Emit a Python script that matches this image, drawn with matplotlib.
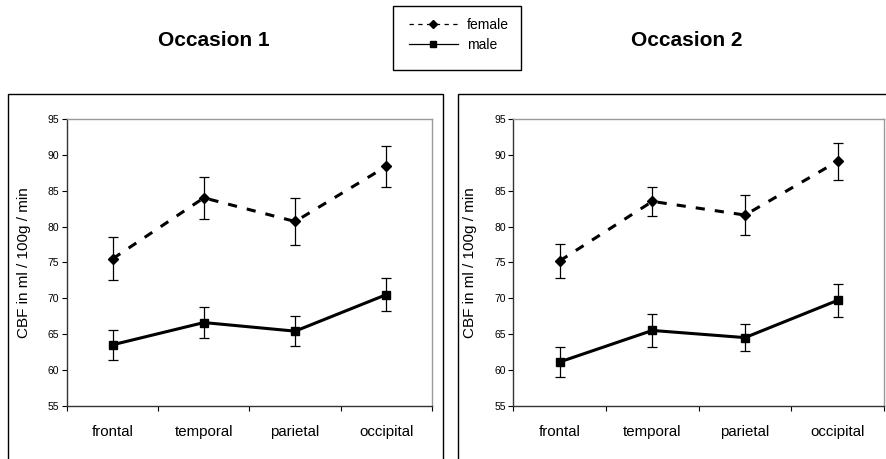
import matplotlib
matplotlib.use("Agg")
import matplotlib.pyplot as plt
from matplotlib.lines import Line2D
from matplotlib.patches import Rectangle

plt.rcParams['font.family'] = ['Liberation Sans', 'DejaVu Sans']

# CBF values (ml / 100g / min) per region
regions = ['frontal', 'temporal', 'parietal', 'occipital']

occ1_female = [75.5, 84.0, 80.7, 88.4]
occ1_female_err = [3.0, 2.9, 3.3, 2.9]
occ1_male = [63.5, 66.6, 65.4, 70.5]
occ1_male_err = [2.1, 2.2, 2.1, 2.35]

occ2_female = [75.2, 83.5, 81.6, 89.1]
occ2_female_err = [2.4, 2.05, 2.8, 2.55]
occ2_male = [61.1, 65.5, 64.5, 69.7]
occ2_male_err = [2.1, 2.3, 1.85, 2.3]

titles = ['Occasion 1', 'Occasion 2']
ylabel = 'CBF in ml / 100g / min'

W, H = 886, 459
fig = plt.figure(figsize=(W / 100, H / 100), dpi=100)


def px_axes(x0, x1, ytop, ybot):
    return fig.add_axes([x0 / W, 1 - ybot / H, (x1 - x0) / W, (ybot - ytop) / H])


def draw_panel(ax, female, female_err, male, male_err):
    x = list(range(1, len(regions) + 1))
    ax.errorbar(x, female, yerr=female_err, color='black', lw=2.2,
                linestyle=(0, (3, 3.3)), marker='D', markersize=5.3,
                ecolor='black', elinewidth=0.9, capsize=3.8, capthick=0.9)
    ax.errorbar(x, male, yerr=male_err, color='black', lw=2.2,
                linestyle='-', marker='s', markersize=5.8,
                ecolor='black', elinewidth=0.9, capsize=3.8, capthick=0.9)
    ax.set_xlim(0.5, len(regions) + 0.5)
    ax.set_ylim(55, 95)
    ax.set_yticks(range(55, 96, 5))
    ax.tick_params(axis='y', labelsize=7.5, length=3.5, width=0.8, pad=2)
    ax.set_xticks(x)
    ax.set_xticklabels(regions, fontsize=10.8)
    ax.tick_params(axis='x', which='major', length=0, pad=14)
    ax.set_xticks([i + 0.5 for i in range(0, len(regions) + 1)], minor=True)
    ax.tick_params(axis='x', which='minor', length=3.5, width=0.8)
    ax.set_ylabel(ylabel, fontsize=11, labelpad=12)
    for side in ['left', 'bottom']:
        ax.spines[side].set_color('#333333')
        ax.spines[side].set_linewidth(1.0)
    for side in ['top', 'right']:
        ax.spines[side].set_color('#999999')
        ax.spines[side].set_linewidth(1.0)


ax1 = px_axes(67, 432, 119, 405.7)
draw_panel(ax1, occ1_female, occ1_female_err, occ1_male, occ1_male_err)
ax2 = px_axes(513.3, 884, 119, 405.7)
draw_panel(ax2, occ2_female, occ2_female_err, occ2_male, occ2_male_err)

# outer chart frames
for x0, x1 in [(8, 443), (458, 892)]:
    fig.patches.append(Rectangle((x0 / W, -0.02), (x1 - x0) / W, 1 - 94 / H + 0.02,
                                 transform=fig.transFigure, fill=False,
                                 edgecolor='black', lw=1.0))

# titles
fig.text(213.5 / W, 1 - 40 / H, titles[0], ha='center', va='center',
         fontsize=15, fontweight='bold')
fig.text(687 / W, 1 - 40 / H, titles[1], ha='center', va='center',
         fontsize=15, fontweight='bold')

# legend
fig.patches.append(Rectangle((393 / W, 1 - 70 / H), 127.5 / W, 64.3 / H,
                             transform=fig.transFigure, fill=False,
                             edgecolor='black', lw=1.0))
handles = [
    Line2D([], [], color='black', lw=0.9, linestyle=(0, (3.5, 3.5)),
           marker='D', markersize=4.2),
    Line2D([], [], color='black', lw=0.9, linestyle='-',
           marker='s', markersize=4.5),
]
fig.legend(handles, ['female', 'male'], loc='center left',
           bbox_to_anchor=(409 / W, 1 - 35 / H), frameon=False,
           fontsize=10, handlelength=3.5, handletextpad=0.65,
           labelspacing=0.45, borderpad=0, borderaxespad=0, numpoints=1)

fig.savefig('out.png', dpi=100)
